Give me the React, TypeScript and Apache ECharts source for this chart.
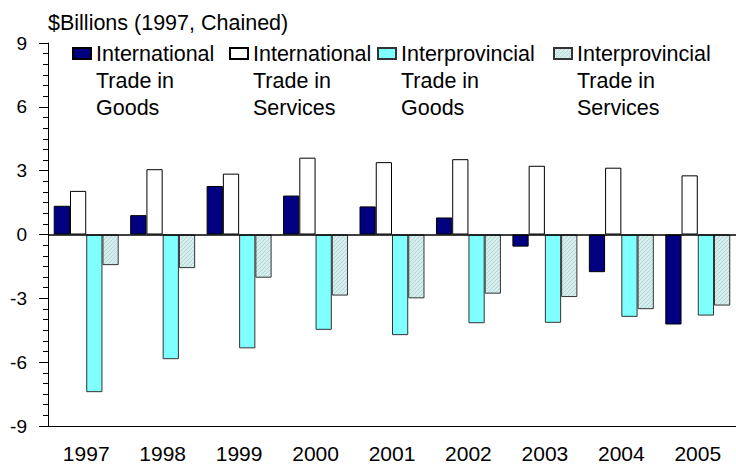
import React, { useEffect, useRef } from "react";
import * as echarts from "echarts";

const years = ["1997", "1998", "1999", "2000", "2001", "2002", "2003", "2004", "2005"];
const seriesNames = [
  "International\nTrade in\nGoods",
  "International\nTrade in\nServices",
  "Interprovincial\nTrade in\nGoods",
  "Interprovincial\nTrade in\nServices",
];
const intlGoods = [1.35, 0.91, 2.28, 1.83, 1.32, 0.8, -0.57, -1.77, -4.23];
const intlServices = [2.05, 3.07, 2.86, 3.61, 3.4, 3.54, 3.23, 3.14, 2.78];
const interGoods = [-7.41, -5.86, -5.35, -4.48, -4.73, -4.17, -4.15, -3.87, -3.81];
const interServices = [-1.44, -1.58, -2.03, -2.87, -3.0, -2.78, -2.94, -3.51, -3.34];
const yMin = -9;
const yMax = 9;
const yStep = 3;

const FONT = "'Liberation Sans', Arial, sans-serif";

function makeHatch(): any {
  const c = document.createElement("canvas");
  c.width = 4;
  c.height = 4;
  const ctx = c.getContext("2d");
  if (!ctx) return "#c9e3e3";
  ctx.fillStyle = "#d4eded";
  ctx.fillRect(0, 0, 4, 4);
  ctx.fillStyle = "#b8d6d6";
  for (let i = 0; i < 4; i++) ctx.fillRect(i, 3 - i, 1, 1);
  return { image: c, repeat: "repeat" };
}

export default function App() {
  const ref = useRef<HTMLDivElement>(null);
  useEffect(() => {
    if (!ref.current) return;
    const chart = echarts.init(ref.current, undefined, { renderer: "svg" });
    const hatch = makeHatch();
    const legendLefts = [72, 229, 377, 553];
    const legendStyle = {
      fontFamily: FONT,
      fontSize: 21.5,
      color: "#000",
      lineHeight: 27,
    };
    const fills = ["#000080", "#ffffff", "#80ffff", hatch];
    const borders = ["#000", "#000", "#333", "#333"];
    const data = [intlGoods, intlServices, interGoods, interServices];
    chart.setOption({
      animation: false,
      backgroundColor: "#fff",
      title: {
        text: "$Billions (1997, Chained)",
        left: 48,
        top: 12,
        padding: 0,
        textStyle: { fontFamily: FONT, fontSize: 21.5, fontWeight: "normal", color: "#000" },
      },
      legend: seriesNames.map((n, i) => ({
        data: [n],
        left: legendLefts[i],
        top: -14,
        padding: 0,
        icon: "rect",
        itemWidth: 18,
        itemHeight: 11,
        selectedMode: false,
        formatter: (name: string) => "\n\n" + name,
        textStyle: legendStyle,
      })),
      grid: { left: 48, right: -4, top: 43, bottom: 36 },
      xAxis: {
        type: "category",
        data: years,
        axisLine: { onZero: false, lineStyle: { color: "#000", width: 1 } },
        axisTick: { alignWithLabel: true, length: 9, lineStyle: { color: "#000" } },
        axisLabel: { fontFamily: FONT, fontSize: 21, color: "#000", margin: 17 },
      },
      yAxis: {
        type: "value",
        min: yMin,
        max: yMax,
        interval: yStep,
        axisLine: { show: true, lineStyle: { color: "#000", width: 1 } },
        axisTick: { show: true, length: 9, lineStyle: { color: "#000" } },
        minorTick: { show: true, splitNumber: 6, length: 5, lineStyle: { color: "#000" } },
        splitLine: { show: false },
        axisLabel: { fontFamily: FONT, fontSize: 19, color: "#000", margin: 21 },
      },
      series: data.map((d, i) => ({
        name: seriesNames[i],
        type: "bar",
        data: d,
        barGap: "0%",
        barCategoryGap: "15%",
        itemStyle: { color: fills[i], borderColor: borders[i], borderWidth: 1 },
        ...(i === 0
          ? {
              markLine: {
                silent: true,
                symbol: "none",
                label: { show: false },
                lineStyle: { color: "#000", width: 1.5, type: "solid" },
                data: [{ yAxis: 0 }],
              },
            }
          : {}),
      })),
    });
    return () => chart.dispose();
  }, []);
  return (
    <div
      ref={ref}
      style={{ position: "fixed", left: 0, top: 0, width: 736, height: 464 }}
    />
  );
}
